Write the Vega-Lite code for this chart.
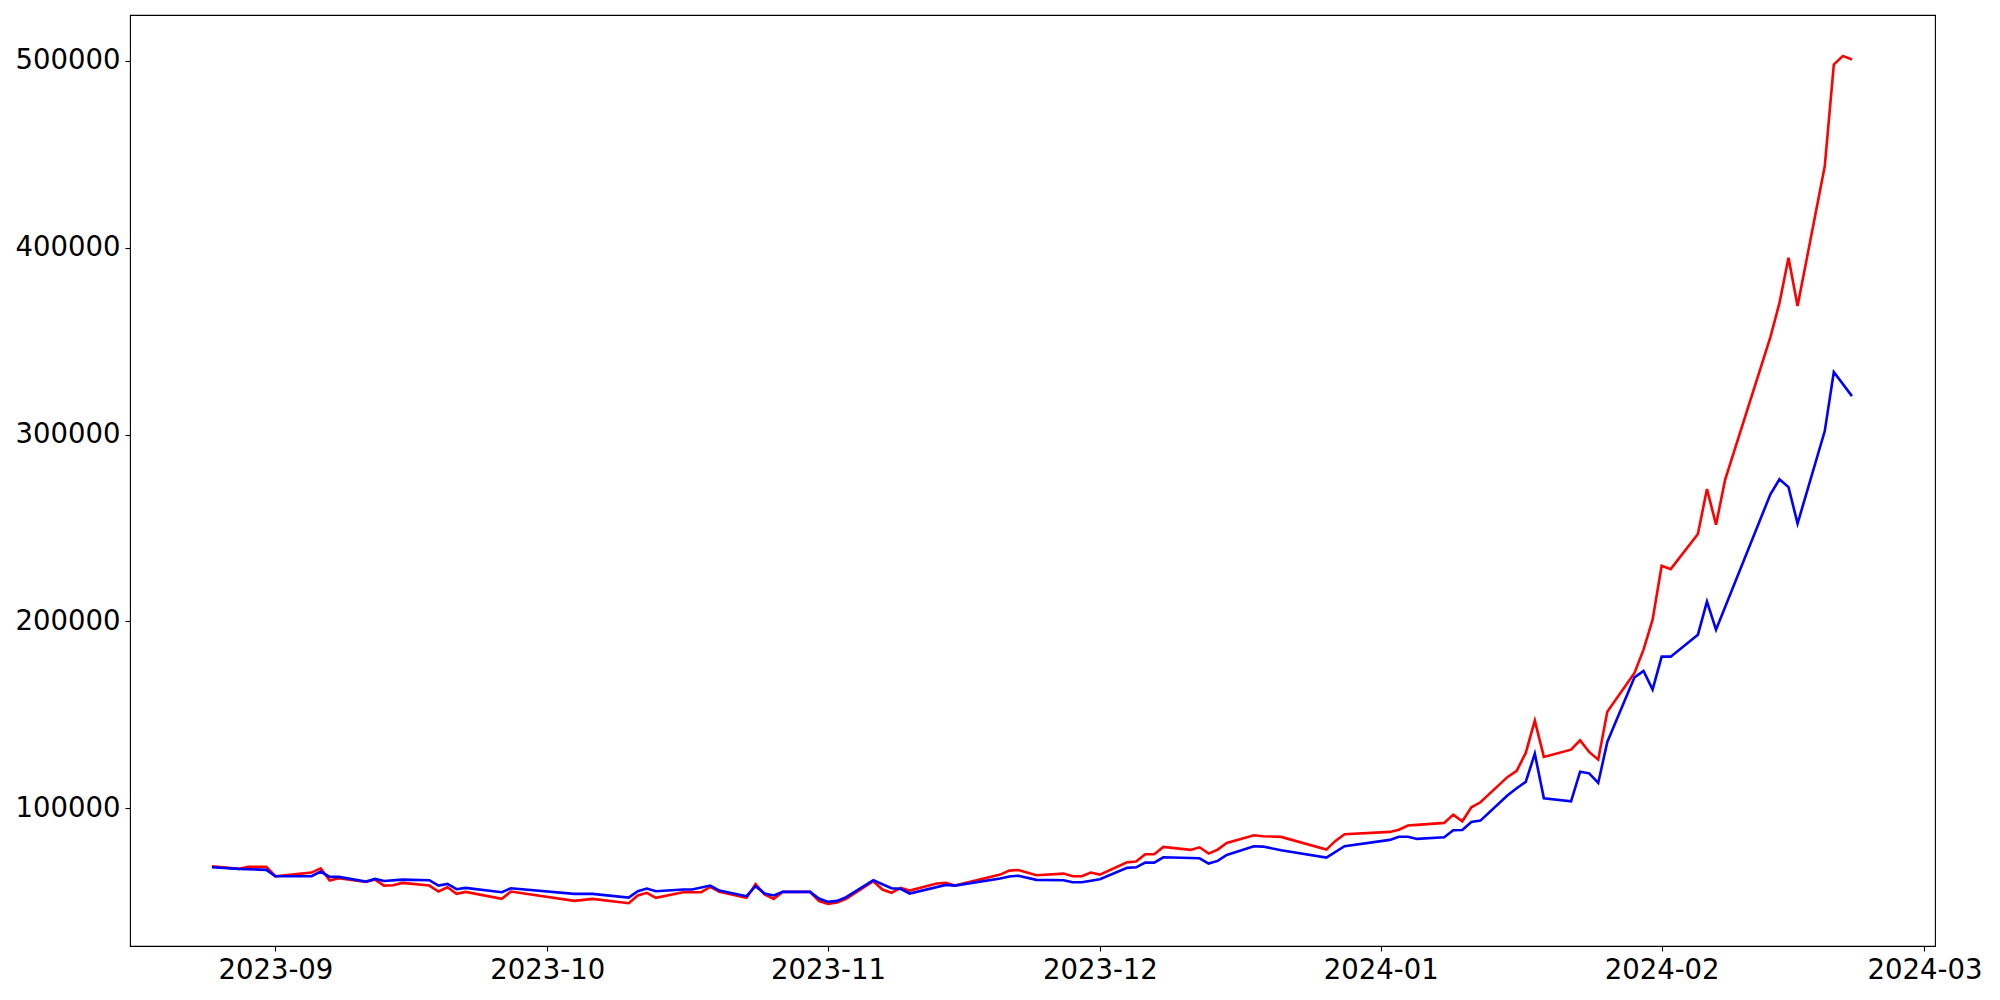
{
  "$schema": "https://vega.github.io/schema/vega-lite/v6.json",
  "autosize": {"type": "none"},
  "width": 1805,
  "height": 931,
  "padding": {"left": 130, "top": 15, "right": 65, "bottom": 54},
  "background": "white",
  "config": {
    "view": {"stroke": "black", "strokeWidth": 1.1},
    "axis": {
      "labelFont": "DejaVu Sans",
      "labelFontSize": 27.5,
      "labelColor": "black",
      "tickColor": "black",
      "tickSize": 5,
      "tickWidth": 1.1,
      "labelPadding": 5,
      "domain": false,
      "grid": false,
      "title": null
    }
  },
  "datasets": {
    "red_series": [
      {"date": "2023-08-25", "value": 68970},
      {"date": "2023-08-28", "value": 67580},
      {"date": "2023-08-29", "value": 68650},
      {"date": "2023-08-31", "value": 68650},
      {"date": "2023-09-01", "value": 63620},
      {"date": "2023-09-05", "value": 65600},
      {"date": "2023-09-06", "value": 67900},
      {"date": "2023-09-07", "value": 61310},
      {"date": "2023-09-08", "value": 62560},
      {"date": "2023-09-11", "value": 60590},
      {"date": "2023-09-12", "value": 61850},
      {"date": "2023-09-13", "value": 58640},
      {"date": "2023-09-14", "value": 58820},
      {"date": "2023-09-15", "value": 60060},
      {"date": "2023-09-18", "value": 58640},
      {"date": "2023-09-19", "value": 55450},
      {"date": "2023-09-20", "value": 57750},
      {"date": "2023-09-21", "value": 54200},
      {"date": "2023-09-22", "value": 55270},
      {"date": "2023-09-26", "value": 51530},
      {"date": "2023-09-27", "value": 55450},
      {"date": "2023-10-04", "value": 50460},
      {"date": "2023-10-06", "value": 51500},
      {"date": "2023-10-10", "value": 49210},
      {"date": "2023-10-11", "value": 53320},
      {"date": "2023-10-12", "value": 54750},
      {"date": "2023-10-13", "value": 52070},
      {"date": "2023-10-16", "value": 55090},
      {"date": "2023-10-18", "value": 55090},
      {"date": "2023-10-19", "value": 57940},
      {"date": "2023-10-20", "value": 55270},
      {"date": "2023-10-23", "value": 52070},
      {"date": "2023-10-24", "value": 59350},
      {"date": "2023-10-25", "value": 53850},
      {"date": "2023-10-26", "value": 51530},
      {"date": "2023-10-27", "value": 55270},
      {"date": "2023-10-30", "value": 55270},
      {"date": "2023-10-31", "value": 50280},
      {"date": "2023-11-01", "value": 48850},
      {"date": "2023-11-02", "value": 49570},
      {"date": "2023-11-03", "value": 51530},
      {"date": "2023-11-06", "value": 60950},
      {"date": "2023-11-07", "value": 56520},
      {"date": "2023-11-08", "value": 54750},
      {"date": "2023-11-09", "value": 57410},
      {"date": "2023-11-10", "value": 55990},
      {"date": "2023-11-13", "value": 59710},
      {"date": "2023-11-14", "value": 60060},
      {"date": "2023-11-15", "value": 58640},
      {"date": "2023-11-20", "value": 64520},
      {"date": "2023-11-21", "value": 66650},
      {"date": "2023-11-22", "value": 67000},
      {"date": "2023-11-24", "value": 64160},
      {"date": "2023-11-27", "value": 65050},
      {"date": "2023-11-28", "value": 63620},
      {"date": "2023-11-29", "value": 63620},
      {"date": "2023-11-30", "value": 65600},
      {"date": "2023-12-01", "value": 64530},
      {"date": "2023-12-04", "value": 71110},
      {"date": "2023-12-05", "value": 71470},
      {"date": "2023-12-06", "value": 75390},
      {"date": "2023-12-07", "value": 75390},
      {"date": "2023-12-08", "value": 79340},
      {"date": "2023-12-11", "value": 77740},
      {"date": "2023-12-12", "value": 79130},
      {"date": "2023-12-13", "value": 75770},
      {"date": "2023-12-14", "value": 77900},
      {"date": "2023-12-15", "value": 81480},
      {"date": "2023-12-18", "value": 85570},
      {"date": "2023-12-19", "value": 85040},
      {"date": "2023-12-21", "value": 84700},
      {"date": "2023-12-26", "value": 77900},
      {"date": "2023-12-27", "value": 82550},
      {"date": "2023-12-28", "value": 86090},
      {"date": "2024-01-02", "value": 87370},
      {"date": "2024-01-03", "value": 88500},
      {"date": "2024-01-04", "value": 90800},
      {"date": "2024-01-05", "value": 91120},
      {"date": "2024-01-08", "value": 92190},
      {"date": "2024-01-09", "value": 96630},
      {"date": "2024-01-10", "value": 93050},
      {"date": "2024-01-11", "value": 100540},
      {"date": "2024-01-12", "value": 103210},
      {"date": "2024-01-15", "value": 116800},
      {"date": "2024-01-16", "value": 120000},
      {"date": "2024-01-17", "value": 129640},
      {"date": "2024-01-18", "value": 146920},
      {"date": "2024-01-19", "value": 127500},
      {"date": "2024-01-22", "value": 131400},
      {"date": "2024-01-23", "value": 136380},
      {"date": "2024-01-24", "value": 130170},
      {"date": "2024-01-25", "value": 126050},
      {"date": "2024-01-26", "value": 151730},
      {"date": "2024-01-29", "value": 172440},
      {"date": "2024-01-30", "value": 184900},
      {"date": "2024-01-31", "value": 200950},
      {"date": "2024-02-01", "value": 229840},
      {"date": "2024-02-02", "value": 228000},
      {"date": "2024-02-05", "value": 246800},
      {"date": "2024-02-06", "value": 270930},
      {"date": "2024-02-07", "value": 251830},
      {"date": "2024-02-08", "value": 275750},
      {"date": "2024-02-13", "value": 352200},
      {"date": "2024-02-14", "value": 370390},
      {"date": "2024-02-15", "value": 394680},
      {"date": "2024-02-16", "value": 368840},
      {"date": "2024-02-19", "value": 443630},
      {"date": "2024-02-20", "value": 498090},
      {"date": "2024-02-21", "value": 502700},
      {"date": "2024-02-22", "value": 500770}
    ],
    "blue_series": [
      {"date": "2023-08-25", "value": 68440},
      {"date": "2023-08-28", "value": 67580},
      {"date": "2023-08-31", "value": 67050},
      {"date": "2023-09-01", "value": 63620},
      {"date": "2023-09-05", "value": 63620},
      {"date": "2023-09-06", "value": 66160},
      {"date": "2023-09-07", "value": 63280},
      {"date": "2023-09-08", "value": 63280},
      {"date": "2023-09-11", "value": 60770},
      {"date": "2023-09-12", "value": 62200},
      {"date": "2023-09-13", "value": 61130},
      {"date": "2023-09-15", "value": 61850},
      {"date": "2023-09-18", "value": 61490},
      {"date": "2023-09-19", "value": 58640},
      {"date": "2023-09-20", "value": 59530},
      {"date": "2023-09-21", "value": 56700},
      {"date": "2023-09-22", "value": 57410},
      {"date": "2023-09-26", "value": 55090},
      {"date": "2023-09-27", "value": 57230},
      {"date": "2023-10-04", "value": 54200},
      {"date": "2023-10-06", "value": 54200},
      {"date": "2023-10-10", "value": 52240},
      {"date": "2023-10-11", "value": 55640},
      {"date": "2023-10-12", "value": 57050},
      {"date": "2023-10-13", "value": 55640},
      {"date": "2023-10-16", "value": 56520},
      {"date": "2023-10-17", "value": 56520},
      {"date": "2023-10-19", "value": 58640},
      {"date": "2023-10-20", "value": 55990},
      {"date": "2023-10-23", "value": 52960},
      {"date": "2023-10-24", "value": 58290},
      {"date": "2023-10-25", "value": 54390},
      {"date": "2023-10-26", "value": 53320},
      {"date": "2023-10-27", "value": 55270},
      {"date": "2023-10-30", "value": 55270},
      {"date": "2023-10-31", "value": 51710},
      {"date": "2023-11-01", "value": 49920},
      {"date": "2023-11-02", "value": 50460},
      {"date": "2023-11-03", "value": 52420},
      {"date": "2023-11-06", "value": 61490},
      {"date": "2023-11-08", "value": 57230},
      {"date": "2023-11-09", "value": 56880},
      {"date": "2023-11-10", "value": 54390},
      {"date": "2023-11-14", "value": 58990},
      {"date": "2023-11-15", "value": 58640},
      {"date": "2023-11-20", "value": 62380},
      {"date": "2023-11-21", "value": 63540},
      {"date": "2023-11-22", "value": 63900},
      {"date": "2023-11-24", "value": 61690},
      {"date": "2023-11-27", "value": 61480},
      {"date": "2023-11-28", "value": 60410},
      {"date": "2023-11-29", "value": 60410},
      {"date": "2023-12-01", "value": 62070},
      {"date": "2023-12-04", "value": 68110},
      {"date": "2023-12-05", "value": 68430},
      {"date": "2023-12-06", "value": 70940},
      {"date": "2023-12-07", "value": 70940},
      {"date": "2023-12-08", "value": 73780},
      {"date": "2023-12-12", "value": 73250},
      {"date": "2023-12-13", "value": 70400},
      {"date": "2023-12-14", "value": 71840},
      {"date": "2023-12-15", "value": 75050},
      {"date": "2023-12-18", "value": 79700},
      {"date": "2023-12-19", "value": 79510},
      {"date": "2023-12-21", "value": 77530},
      {"date": "2023-12-26", "value": 73600},
      {"date": "2023-12-28", "value": 79700},
      {"date": "2024-01-02", "value": 83090},
      {"date": "2024-01-03", "value": 84800},
      {"date": "2024-01-04", "value": 84800},
      {"date": "2024-01-05", "value": 83620},
      {"date": "2024-01-08", "value": 84530},
      {"date": "2024-01-09", "value": 88230},
      {"date": "2024-01-10", "value": 88410},
      {"date": "2024-01-11", "value": 92720},
      {"date": "2024-01-12", "value": 93420},
      {"date": "2024-01-15", "value": 106950},
      {"date": "2024-01-16", "value": 110700},
      {"date": "2024-01-17", "value": 114120},
      {"date": "2024-01-18", "value": 129260},
      {"date": "2024-01-19", "value": 105350},
      {"date": "2024-01-22", "value": 103750},
      {"date": "2024-01-23", "value": 119630},
      {"date": "2024-01-24", "value": 118720},
      {"date": "2024-01-25", "value": 113590},
      {"date": "2024-01-26", "value": 135520},
      {"date": "2024-01-29", "value": 170090},
      {"date": "2024-01-30", "value": 173510},
      {"date": "2024-01-31", "value": 163500},
      {"date": "2024-02-01", "value": 181160},
      {"date": "2024-02-02", "value": 181160},
      {"date": "2024-02-05", "value": 192930},
      {"date": "2024-02-06", "value": 210600},
      {"date": "2024-02-07", "value": 195600},
      {"date": "2024-02-13", "value": 268100},
      {"date": "2024-02-14", "value": 276100},
      {"date": "2024-02-15", "value": 271900},
      {"date": "2024-02-16", "value": 252400},
      {"date": "2024-02-19", "value": 301900},
      {"date": "2024-02-20", "value": 333500},
      {"date": "2024-02-22", "value": 320600}
    ]
  },
  "encoding": {
    "x": {
      "field": "date",
      "type": "temporal",
      "scale": {
        "type": "utc",
        "domain": [
          {"year": 2023, "month": 8, "date": 15, "hours": 23, "utc": true},
          {"year": 2024, "month": 3, "date": 2, "hours": 4, "utc": true}
        ]
      },
      "axis": {
        "values": [
          {"year": 2023, "month": 9, "date": 1, "utc": true},
          {"year": 2023, "month": 10, "date": 1, "utc": true},
          {"year": 2023, "month": 11, "date": 1, "utc": true},
          {"year": 2023, "month": 12, "date": 1, "utc": true},
          {"year": 2024, "month": 1, "date": 1, "utc": true},
          {"year": 2024, "month": 2, "date": 1, "utc": true},
          {"year": 2024, "month": 3, "date": 1, "utc": true}
        ],
        "labelExpr": "utcFormat(datum.value, '%Y-%m')",
        "labelOverlap": false,
        "labelFlush": false
      }
    },
    "y": {
      "field": "value",
      "type": "quantitative",
      "scale": {"domain": [26300, 524600], "nice": false, "zero": false},
      "axis": {
        "values": [100000, 200000, 300000, 400000, 500000],
        "format": "d",
        "labelOverlap": false,
        "labelFlush": false
      }
    }
  },
  "layer": [
    {
      "data": {"name": "red_series"},
      "mark": {"type": "line", "color": "#ff0000", "strokeWidth": 2.6, "clip": true}
    },
    {
      "data": {"name": "blue_series"},
      "mark": {"type": "line", "color": "#0000ff", "strokeWidth": 2.6, "clip": true}
    }
  ]
}
